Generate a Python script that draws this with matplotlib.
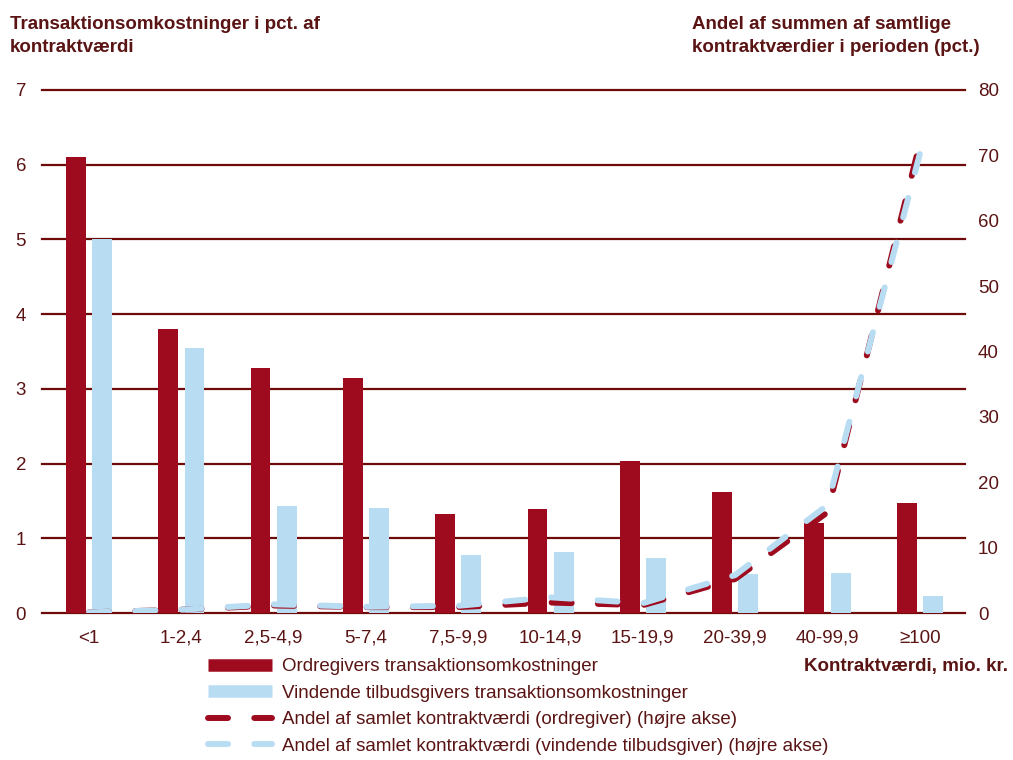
import matplotlib
matplotlib.use("Agg")
import matplotlib.pyplot as plt
from matplotlib.lines import Line2D
import numpy as np

categories = ["<1", "1-2,4", "2,5-4,9", "5-7,4", "7,5-9,9", "10-14,9",
              "15-19,9", "20-39,9", "40-99,9", "\u2265100"]
ordregiver_cost = [6.1, 3.8, 3.28, 3.14, 1.32, 1.39, 2.03, 1.62, 1.2, 1.47]
tilbud_cost = [5.0, 3.55, 1.43, 1.40, 0.77, 0.82, 0.74, 0.52, 0.53, 0.23]
ordregiver_share = [0.1, 0.5, 1.15, 0.9, 0.9, 1.6, 1.2, 5.2, 15.4, 71.8]
tilbud_share = [0.1, 0.5, 1.33, 0.95, 1.1, 2.4, 1.5, 5.8, 16.5, 70.2]

left_ticks = [0, 1, 2, 3, 4, 5, 6, 7]
right_ticks = [0, 10, 20, 30, 40, 50, 60, 70, 80]

RED = "#9E0B1F"
BLUE = "#B8DDF3"
GRID = "#6E0A0A"
TXT = "#5A1414"
FS = 13.5

plt.rcParams['font.family'] = ['Liberation Sans', 'DejaVu Sans']

fig = plt.figure(figsize=(10.13, 7.6), dpi=100)
ax = fig.add_axes([42/1013, 1-613/760, (965-42)/1013, (613-90)/760])
ax2 = ax.twinx()

x = np.arange(len(categories))
w = 0.215
ax.bar(x - 0.142, ordregiver_cost, width=w, color=RED, zorder=3)
ax.bar(x + 0.142, tilbud_cost, width=w, color=BLUE, zorder=3)

ax.set_xlim(-0.51, 9.49)
ax.set_ylim(0, 7)
ax.set_yticks(left_ticks)
ax.set_axisbelow(True)
ax.yaxis.grid(True, color=GRID, lw=1.6)
for gl in ax.get_ygridlines():
    gl.set_clip_on(False)
for s in ax.spines.values():
    s.set_visible(False)
ax.set_xticks(x)
ax.set_xticklabels(categories)
ax.tick_params(axis='x', length=0, pad=12, labelsize=FS, labelcolor=TXT)
ax.tick_params(axis='y', length=0, pad=11.5, labelsize=FS, labelcolor=TXT)

LW = 4.3
dash = (0, (3.35, 4.4))
ax2.plot(x, ordregiver_share, color=RED, lw=LW, linestyle=dash,
         dash_capstyle='round', solid_capstyle='round')
ax2.plot(x, tilbud_share, color=BLUE, lw=LW, linestyle=dash,
         dash_capstyle='round', solid_capstyle='round')
ax2.set_ylim(0, 80)
ax2.set_yticks(right_ticks)
for s in ax2.spines.values():
    s.set_visible(False)
ax2.tick_params(axis='y', length=0, pad=9.4, labelsize=FS, labelcolor=TXT)

fig.text(10/1013, 1-36/760, "Transaktionsomkostninger i pct. af\nkontraktværdi",
         ha='left', va='center', fontsize=FS, fontweight='bold', color=TXT,
         linespacing=1.45)
fig.text(692/1013, 1-36/760, "Andel af summen af samtlige\nkontraktværdier i perioden (pct.)",
         ha='left', va='center', fontsize=FS, fontweight='bold', color=TXT,
         linespacing=1.45)
fig.text(1008/1013, 1-667/760, "Kontraktværdi, mio. kr.", ha='right', va='center',
         fontsize=FS, fontweight='bold', color=TXT)

handles = [
    Line2D([], [], color=RED, lw=9, solid_capstyle='butt'),
    Line2D([], [], color=BLUE, lw=9, solid_capstyle='butt'),
    Line2D([], [], color=RED, lw=LW, linestyle=dash, dash_capstyle='round'),
    Line2D([], [], color=BLUE, lw=LW, linestyle=dash, dash_capstyle='round'),
]
labels = ["Ordregivers transaktionsomkostninger",
          "Vindende tilbudsgivers transaktionsomkostninger",
          "Andel af samlet kontraktværdi (ordregiver) (højre akse)",
          "Andel af samlet kontraktværdi (vindende tilbudsgiver) (højre akse)"]
leg = fig.legend(handles, labels, loc='upper left', bbox_to_anchor=(208/1013, 1-658/760),
                 frameon=False, fontsize=FS, handlelength=3.4, handletextpad=0.53,
                 labelspacing=0.5, borderaxespad=0, borderpad=0)
for t in leg.get_texts():
    t.set_color(TXT)

fig.savefig("out.png", dpi=100)
